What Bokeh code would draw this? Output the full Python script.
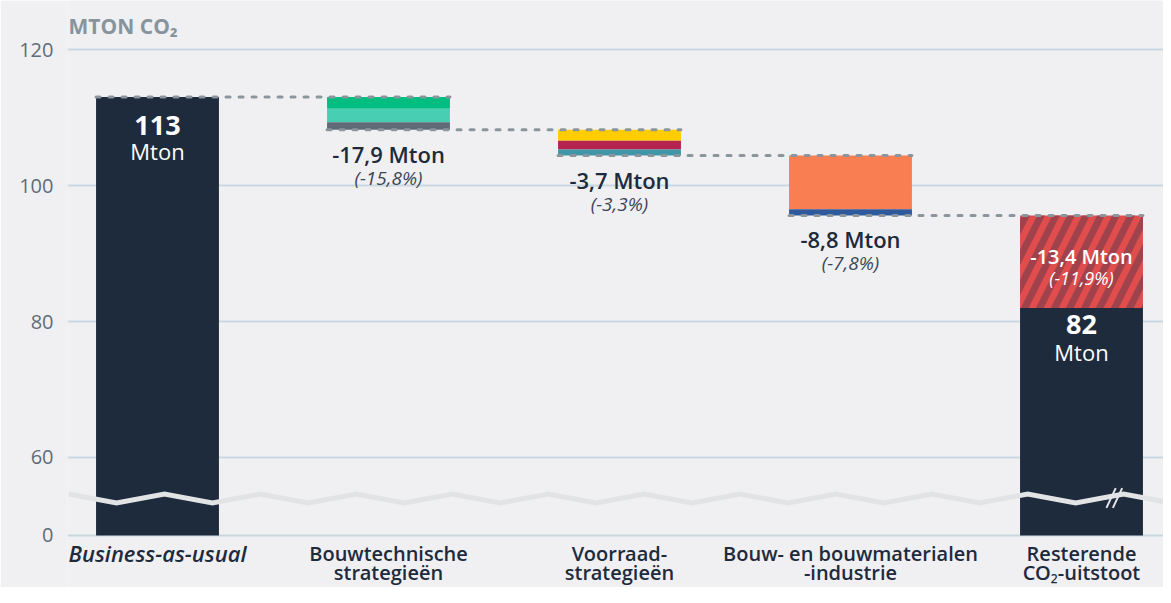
import numpy as np
from bokeh.plotting import figure
from bokeh.models import Range1d, FixedTicker, ColumnDataSource
from bokeh.core.properties import value
from bokeh.embed import file_html
from bokeh.resources import INLINE

# ---------------- data ----------------
cat_line1 = ["Business-as-usual", "Bouwtechnische", "Voorraad-", "Bouw- en bouwmaterialen", "Resterende"]
cat_line2 = ["", "strategieën", "strategieën", "-industrie", "CO₂-uitstoot"]
cat_style = ["italic", "normal", "normal", "normal", "normal"]
cat_size = ["22px", "20px", "20px", "20px", "20px"]

bau_total = 113
remaining_total = 82

# stacked segments: bar index, top, bottom (Mton CO2)
seg_bar = [0, 1, 1, 1, 2, 2, 2, 3, 3, 4]
seg_top = [113, 113, 111.3, 109.3, 108.2, 106.6, 105.3, 104.4, 96.5, 82]
seg_bottom = [0, 111.3, 109.3, 108.2, 106.6, 105.3, 104.4, 96.5, 95.6, 0]
seg_color = ["#1e2b3c", "#00be80", "#48cfb3", "#5f6b77", "#ffcc00", "#b5234f",
             "#3e96a8", "#f97e52", "#2e5a9b", "#1e2b3c"]

# hatched part of the remaining bar
hatch_bar = [4]
hatch_top = [95.6]
hatch_bottom = [82]

# change labels
change_bar = [1, 2, 3]
change_level = [108.2, 104.4, 95.6]
change_text = ["-17,9 Mton", "-3,7 Mton", "-8,8 Mton"]
change_pct = ["(-15,8%)", "(-3,3%)", "(-7,8%)"]
rest_text = "-13,4 Mton"
rest_pct = "(-11,9%)"

# dashed connectors: from bar i (left edge) to bar i+1 (right edge)
conn_from = [0, 1, 2, 3]
conn_level = [113, 108.2, 104.4, 95.6]

y_ticks = [0, 60, 80, 100, 120]

# ---------------- broken axis transform ----------------
BREAK = 60.0
ZERO_POS = 48.53          # where 0 is drawn on the compressed part


def ty(v):
    v = np.asarray(v, dtype=float)
    return np.where(v >= BREAK, v, ZERO_POS + v * (BREAK - ZERO_POS) / BREAK)


BAR_W = 0.532
NAVY = "#1e2b3c"
BG = "#f0f0f3"
FONT = value("Open Sans")
FONT_MED = value("'Open Sans SemiBold', 'Open Sans'")

p = figure(width=1163, height=587, output_backend="svg", toolbar_location=None,
           x_range=Range1d(-0.3896, 4.355), y_range=Range1d(40.88, 127.21),
           min_border_left=67, min_border_right=0, min_border_top=0, min_border_bottom=0)
p.background_fill_color = BG
p.border_fill_color = BG
p.outline_line_color = None

p.xaxis.visible = False
p.xgrid.visible = False

tick_pos = [float(ty(t)) for t in y_ticks]
p.yaxis.ticker = FixedTicker(ticks=tick_pos)
p.yaxis.major_label_overrides = {tp: str(t) for tp, t in zip(tick_pos, y_ticks)}
p.yaxis.axis_line_color = None
p.yaxis.major_tick_line_color = None
p.yaxis.minor_tick_line_color = None
p.yaxis.major_tick_in = 0
p.yaxis.major_tick_out = 0
p.yaxis.major_label_standoff = 14
p.yaxis.major_label_text_font = "Open Sans"
p.yaxis.major_label_text_font_size = "20px"
p.yaxis.major_label_text_color = "#5f6c78"
p.ygrid.grid_line_color = "#c9d7e1"
p.ygrid.grid_line_width = 2

# bars
src = ColumnDataSource(dict(x=seg_bar, top=ty(seg_top), bottom=ty(seg_bottom), color=seg_color))
p.vbar(x="x", width=BAR_W, top="top", bottom="bottom", fill_color="color",
       line_color=None, source=src)
p.vbar(x=hatch_bar, width=BAR_W, top=ty(hatch_top), bottom=ty(hatch_bottom),
       fill_color="#e14c4c", line_color=None, hatch_pattern="/",
       hatch_color="#a0424b", hatch_scale=30, hatch_weight=7)

# broken-axis zigzag across the chart
zig_n = 25
zig_x = -0.385 + 0.2076 * np.arange(zig_n)
zig_y = np.where(np.arange(zig_n) % 2 == 0, 54.63, 53.31)
p.line(zig_x, zig_y, line_color="#e2e3e5", line_width=5, line_join="miter")
# "//" break mark on the remaining bar
mark_x = np.array([4.128, 4.156])
p.segment(x0=mark_x - 0.02, y0=54.04 - 1.45, x1=mark_x + 0.02, y1=54.04 + 1.45,
          line_color="#e6e6e8", line_width=2)

# dashed connectors
cf = np.array(conn_from)
p.segment(x0=cf - BAR_W / 2, x1=cf + 1 + BAR_W / 2, y0=ty(conn_level), y1=ty(conn_level),
          line_color="#8a959c", line_width=3, line_dash="4 9", line_cap="round")

# title
p.text(x=[-0.385], y=[60 + (457 - 25) / 6.8], text=["MTON CO₂"], text_font=FONT,
       text_font_style="bold", text_font_size="21px", text_color="#87949b",
       text_align="left", text_baseline="middle")

# totals
p.text(x=[0, 4], y=ty([bau_total, remaining_total]), text=["113", "82"],
       y_offset=[28, 17], text_font=FONT, text_font_style="bold", text_font_size="27px",
       text_color="white", text_align="center", text_baseline="middle")
p.text(x=[0, 4], y=ty([bau_total, remaining_total]), text=["Mton", "Mton"],
       y_offset=[54, 44], text_font=FONT, text_font_size="22px",
       text_color="white", text_align="center", text_baseline="middle")

# change labels
p.text(x=change_bar, y=ty(change_level), text=change_text, y_offset=24, text_font=FONT_MED,
       text_font_size="22px", text_color=NAVY, text_align="center", text_baseline="middle")
p.text(x=change_bar, y=ty(change_level), text=change_pct, y_offset=48, text_font=FONT,
       text_font_style="italic", text_font_size="19px", text_color="#3a4656",
       text_align="center", text_baseline="middle")
p.text(x=hatch_bar, y=ty(hatch_top), text=[rest_text], y_offset=41, text_font=FONT_MED,
       text_font_size="20px", text_color="white", text_align="center", text_baseline="middle")
p.text(x=hatch_bar, y=ty(hatch_top), text=[rest_pct], y_offset=63, text_font=FONT,
       text_font_style="italic", text_font_size="18px", text_color="white",
       text_align="center", text_baseline="middle")

# category labels
cat_x = list(range(len(cat_line1)))
csrc = ColumnDataSource(dict(x=cat_x, y=ty([0] * len(cat_x)), l1=cat_line1, l2=cat_line2,
                             st=cat_style, sz=cat_size))
p.text(x="x", y="y", text="l1", y_offset=18, text_font=FONT_MED, text_font_style="st",
       text_font_size="sz", text_color=NAVY, text_align="center", text_baseline="middle",
       source=csrc)
p.text(x="x", y="y", text="l2", y_offset=37, text_font=FONT_MED, text_font_size="20px",
       text_color=NAVY, text_align="center", text_baseline="middle", source=csrc)

open("out.html", "w").write(file_html(p, INLINE))
